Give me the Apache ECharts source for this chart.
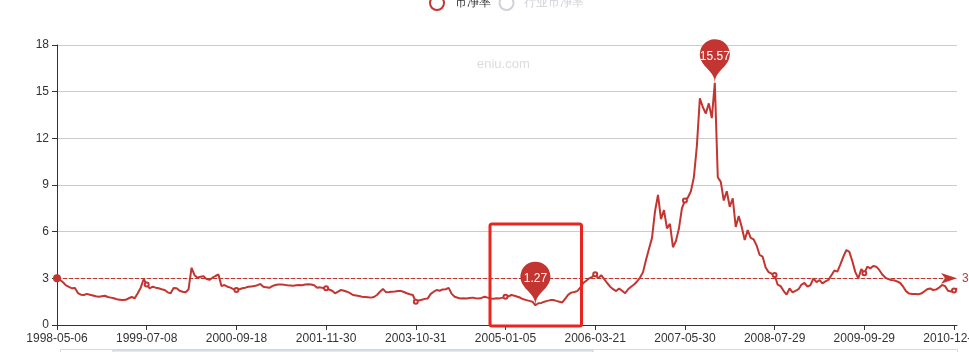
<!DOCTYPE html>
<html>
<head>
<meta charset="utf-8">
<script src="https://cdn.jsdelivr.net/npm/echarts@6/dist/echarts.min.js"></script>
<style>
html,body{margin:0;padding:0;background:#fff;}
#chart{width:969px;height:352px;}
</style>
</head>
<body>
<div id="chart"></div>
<script>
// Tick label dates (every 30th category)
const tickDates = ['1998-05-06','1999-07-08','2000-09-18','2001-11-30','2003-10-31','2005-01-05','2006-03-21','2007-05-30','2008-07-29','2009-09-29','2010-12-01'];
const seriesName = '市净率';
const seriesName2 = '行业市净率';
const yTicks = [0, 3, 6, 9, 12, 15, 18];
const refLineValue = 3;

// Values
const pbValues = [
3.04,2.9,2.75,2.55,2.45,2.36,2.38,2.05,1.95,1.93,
2.0,1.95,1.9,1.85,1.82,1.85,1.88,1.8,1.76,1.72,
1.66,1.63,1.6,1.62,1.72,1.8,1.72,2.04,2.4,2.96,
2.6,2.36,2.46,2.4,2.36,2.3,2.25,2.1,2.04,2.38,
2.36,2.2,2.14,2.1,2.3,3.68,3.2,3.04,3.1,3.14,
2.95,2.9,3.04,3.15,3.25,2.5,2.57,2.46,2.4,2.3,
2.25,2.3,2.36,2.4,2.46,2.48,2.5,2.55,2.64,2.46,
2.42,2.39,2.5,2.57,2.6,2.6,2.58,2.55,2.54,2.52,
2.55,2.57,2.56,2.6,2.62,2.6,2.55,2.39,2.42,2.38,
2.36,2.28,2.2,2.04,2.15,2.25,2.2,2.14,2.05,1.93,
1.9,1.86,1.82,1.8,1.78,1.76,1.8,1.93,2.14,2.32,
2.11,2.12,2.14,2.15,2.18,2.19,2.12,2.04,1.98,1.93,
1.5,1.58,1.62,1.68,1.71,2.0,2.14,2.25,2.2,2.29,
2.3,2.39,2.0,1.82,1.75,1.71,1.72,1.71,1.74,1.76,
1.72,1.71,1.74,1.82,1.76,1.7,1.69,1.72,1.71,1.76,
1.82,1.85,1.93,1.88,1.82,1.75,1.65,1.6,1.55,1.5,
1.27,1.4,1.42,1.5,1.55,1.6,1.61,1.55,1.5,1.45,
1.7,1.95,2.08,2.12,2.18,2.4,2.7,2.85,3.0,3.1,
3.26,3.0,3.2,2.95,2.7,2.46,2.3,2.18,2.35,2.2,
2.04,2.3,2.46,2.6,2.8,3.05,3.4,4.2,4.9,5.6,
7.3,8.36,6.8,7.39,6.21,6.5,5.0,5.4,6.2,7.5,
8.0,8.2,8.6,9.5,11.5,14.57,14.0,13.6,14.25,13.3,
15.57,9.5,9.2,8.0,8.6,7.6,8.14,6.3,7.0,6.3,
5.46,6.1,5.6,5.5,5.1,4.5,4.39,3.7,3.4,3.3,
3.21,2.6,2.5,2.2,1.95,2.35,2.1,2.2,2.3,2.6,
2.7,2.46,2.57,3.0,2.75,2.89,2.68,2.8,2.9,3.2,
3.5,3.43,3.9,4.4,4.82,4.7,4.1,3.4,3.0,3.6,
3.32,3.75,3.64,3.79,3.75,3.54,3.25,3.05,2.95,2.89,
2.87,2.8,2.7,2.46,2.16,2.02,2.0,2.0,1.97,2.02,
2.15,2.3,2.35,2.25,2.28,2.4,2.57,2.5,2.2,2.15,
2.21,2.36
];

// Build category dates: 30 steps between consecutive tick dates
function parseD(s){const p=s.split('-');return Date.UTC(+p[0],+p[1]-1,+p[2]);}
function fmt(t){const d=new Date(t);const m=d.getUTCMonth()+1, dd=d.getUTCDate();return d.getUTCFullYear()+'-'+(m<10?'0':'')+m+'-'+(dd<10?'0':'')+dd;}
const step = 30;
const categories = [];
for (let s = 0; s < tickDates.length - 1; s++) {
  const a = parseD(tickDates[s]), b = parseD(tickDates[s+1]);
  categories.push(tickDates[s]);
  for (let j = 1; j < step; j++) {
    const t = a + Math.round((b - a) / 86400000 * j / step) * 86400000;
    categories.push(fmt(t));
  }
}
categories.push(tickDates[tickDates.length-1]);
while (categories.length < pbValues.length) {
  const last = parseD(categories[categories.length-1]);
  categories.push(fmt(last + 3*86400000));
}

const chart = echarts.init(document.getElementById('chart'), null, {renderer:'canvas'});
const red = '#c23531';
const font = 'sans-serif';
chart.setOption({
  animation: false,
  color: [red, '#2f4554'],
  textStyle: {fontFamily: font},
  legend: {
    top: -10,
    left: 424,
    icon: 'emptyCircle',
    itemWidth: 25,
    itemHeight: 14,
    textStyle: {fontSize: 12, color: '#333'},
    data: [seriesName, seriesName2],
    selected: {[seriesName2]: false}
  },
  grid: {left: 57, right: 12, top: 45, bottom: 27, containLabel: false, outerBoundsMode: 'none'},
  xAxis: {
    type: 'category',
    boundaryGap: false,
    data: categories,
    axisLine: {show: true, lineStyle: {color: '#333', width: 1}},
    axisTick: {show: true, interval: step - 1, length: 5, lineStyle: {color: '#333'}},
    axisLabel: {interval: step - 1, color: '#333', fontSize: 12, margin: 8, fontFamily: font},
    splitLine: {show: false}
  },
  yAxis: {
    type: 'value',
    min: yTicks[0],
    max: yTicks[yTicks.length-1],
    interval: 3,
    axisLine: {show: true, lineStyle: {color: '#333', width: 1}},
    axisTick: {show: true, length: 5, lineStyle: {color: '#333'}},
    axisLabel: {color: '#333', fontSize: 12, margin: 8, fontFamily: font},
    splitLine: {show: true, lineStyle: {color: '#ccc', width: 1}}
  },
  series: [
    {
      name: seriesName,
      type: 'line',
      data: pbValues,
      symbol: 'emptyCircle',
      symbolSize: 4,
      showSymbol: true,
      lineStyle: {width: 2, color: red},
      itemStyle: {color: red},
      markPoint: {
        symbol: 'pin',
        symbolSize: 50,
        label: {color: '#fff', fontSize: 12, fontFamily: font},
        itemStyle: {color: red},
        data: [{type: 'max', name: '最大值'}, {type: 'min', name: '最小值'}]
      },
      markLine: {
        symbol: ['circle', 'arrow'],
        symbolSize: [8, 16],
        lineStyle: {type: 'dashed', color: red, width: 1},
        label: {color: red, fontSize: 12, fontFamily: font},
        data: [{yAxis: refLineValue}]
      }
    },
    {
      name: seriesName2,
      type: 'line',
      data: []
    }
  ],
  graphic: [
    {
      type: 'text', left: 477, top: 58, silent: true,
      style: {text: 'eniu.com', fill: '#dcdcdc', font: '13px sans-serif'}
    },
    {
      type: 'rect', silent: true, z: 100,
      shape: {x: 490, y: 224, width: 91.5, height: 102, r: 2},
      style: {fill: 'none', stroke: '#e8261f', lineWidth: 3}
    },
    {
      type: 'rect', silent: true,
      shape: {x: 60.5, y: 349.5, width: 897, height: 10},
      style: {fill: '#fff', stroke: '#d2dbee', lineWidth: 1}
    },
    {
      type: 'rect', silent: true,
      shape: {x: 113, y: 350, width: 480, height: 10},
      style: {fill: '#e6e9ef', stroke: '#c9d0dc', lineWidth: 1}
    }
  ]
});
</script>
</body>
</html>
